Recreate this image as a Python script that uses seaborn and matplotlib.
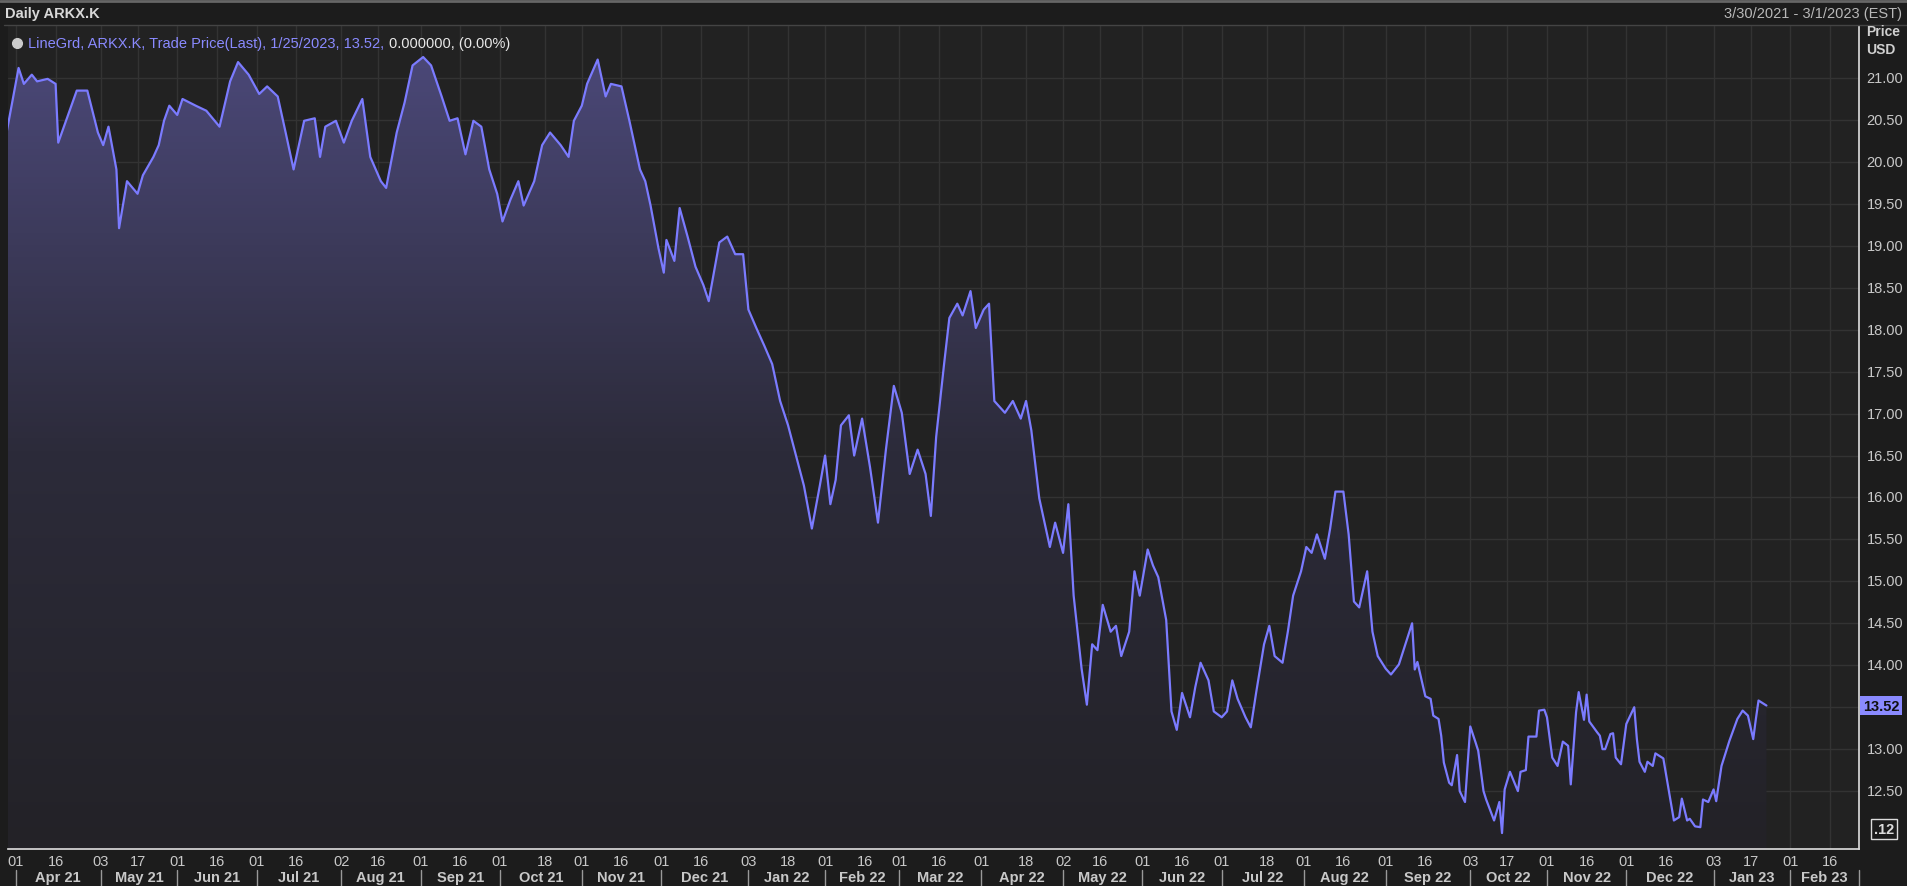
import numpy as np
import pandas as pd
import matplotlib
matplotlib.use("Agg")
import matplotlib.pyplot as plt
import matplotlib.dates as mdates
import seaborn as sns
from matplotlib.colors import LinearSegmentedColormap

# ---- data: day offsets from 2021-04-01 and price ----
day_offset = [-4,1,3,6,8,12,15,16,23,26,27,31,33,35,38,39,42,46,48,52,54,56,58,61,63,68,72,77,81,84,88,92,95,99,
              102,105,109,113,115,117,121,124,127,131,134,138,140,144,147,150,154,157,161,164,167,170,173,176,179,
              182,184,187,190,192,196,199,202,206,209,211,214,216,220,223,225,229,232,236,238,240,243,245,246,249,
              251,254,257,260,262,266,269,272,275,277,280,283,286,289,292,295,298,301,304,306,308,310,312,315,317,
              320,323,326,329,332,335,338,341,344,346,348,351,353,356,358,361,363,366,368,370,374,377,380,382,384,
              387,389,391,393,396,398,400,403,405,407,409,411,414,416,418,421,423,425,428,430,432,435,437,439,441,
              444,446,448,451,453,456,458,460,462,465,467,469,472,474,476,479,481,483,486,488,490,492,495,497,499,
              502,504,506,508,511,513,515,518,520,523,528,529,530,533,535,536,538,539,540,542,543,545,546,548,550,
              552,553,555,556,559,561,562,563,565,568,569,571,572,575,576,578,579,581,583,585,587,588,590,591,593,
              594,595,598,599,600,601,603,604,605,607,609,612,613,614,616,617,619,620,623,625,627,629,630,632,633,
              635,637,638,640,642,643,645,647,648,651,653,655,657,658,659,661,662]
price = [20.27,21.12,20.93,21.04,20.96,20.99,20.93,20.23,20.85,20.85,20.85,20.35,20.2,20.42,19.91,19.21,19.77,19.62,
         19.84,20.06,20.2,20.49,20.67,20.56,20.75,20.67,20.61,20.42,20.96,21.19,21.04,20.81,20.9,20.78,
         20.35,19.91,20.49,20.52,20.06,20.42,20.49,20.23,20.49,20.75,20.06,19.77,19.69,20.35,20.71,21.15,21.25,
         21.15,20.78,20.49,20.52,20.09,20.49,20.42,19.91,19.62,19.29,19.55,19.77,19.48,19.77,20.2,20.35,20.2,
         20.06,20.49,20.67,20.93,21.22,20.78,20.93,20.9,20.49,19.91,19.77,19.48,18.97,18.68,19.07,18.82,
         19.45,19.11,18.75,18.53,18.34,19.04,19.11,18.9,18.9,18.24,18.02,17.81,17.59,17.15,16.86,16.5,16.14,
         15.63,16.14,16.5,15.92,16.21,16.86,16.98,16.5,16.94,16.36,15.7,16.57,17.33,17.01,16.28,16.57,16.28,
         15.78,16.72,17.59,18.14,18.31,18.17,18.46,18.02,18.24,18.31,17.15,17.01,17.15,16.94,17.15,16.8,
         15.99,15.7,15.41,15.7,15.34,15.92,14.83,13.96,13.53,14.25,14.18,14.72,14.4,14.47,14.11,14.4,15.12,
         14.83,15.38,15.19,15.05,14.54,13.45,13.23,13.67,13.38,13.74,14.03,13.82,13.45,13.38,13.45,13.82,13.6,
         13.38,13.26,13.67,14.25,14.47,14.11,14.03,14.4,14.83,15.12,15.41,15.34,15.56,15.27,15.63,16.07,16.07,
         15.56,14.76,14.69,15.12,14.4,14.11,13.96,13.89,14.01,14.5,13.95,14.04,13.63,13.6,13.4,13.36,13.16,
         12.84,12.6,12.57,12.93,12.5,12.37,13.27,13.08,12.98,12.5,12.4,12.15,12.37,12.0,12.52,12.73,12.5,
         12.73,12.75,13.15,13.15,13.46,13.47,13.38,12.9,12.8,13.09,13.04,12.58,13.44,13.68,13.35,13.65,13.33,
         13.2,13.16,13.0,13.0,13.18,13.19,12.9,12.82,13.3,13.5,13.12,12.85,12.73,12.85,12.8,12.95,12.89,12.52,
         12.15,12.19,12.41,12.15,12.17,12.08,12.07,12.4,12.37,12.52,12.38,12.8,13.0,13.1,13.36,13.46,13.4,
         13.12,13.36,13.58,13.54,13.52]
start_date = "2021-04-01"
tick_dates = ["2021-04-01","2021-04-16","2021-05-03","2021-05-17","2021-06-01","2021-06-16","2021-07-01",
              "2021-07-16","2021-08-02","2021-08-16","2021-09-01","2021-09-16","2021-10-01","2021-10-18",
              "2021-11-01","2021-11-16","2021-12-01","2021-12-16","2022-01-03","2022-01-18","2022-02-01",
              "2022-02-16","2022-03-01","2022-03-16","2022-04-01","2022-04-18","2022-05-02","2022-05-16",
              "2022-06-01","2022-06-16","2022-07-01","2022-07-18","2022-08-01","2022-08-16","2022-09-01",
              "2022-09-16","2022-10-03","2022-10-17","2022-11-01","2022-11-16","2022-12-01","2022-12-16",
              "2023-01-03","2023-01-17","2023-02-01","2023-02-16"]
month_labels = ["Apr 21","May 21","Jun 21","Jul 21","Aug 21","Sep 21","Oct 21","Nov 21","Dec 21","Jan 22",
                "Feb 22","Mar 22","Apr 22","May 22","Jun 22","Jul 22","Aug 22","Sep 22","Oct 22","Nov 22",
                "Dec 22","Jan 23","Feb 23"]
y_ticks = [12.5,13.0,13.5,14.0,14.5,15.0,15.5,16.0,16.5,17.0,17.5,18.0,18.5,19.0,19.5,20.0,20.5,21.0]
last_price = 13.52

df = pd.DataFrame({"date": pd.Timestamp(start_date) + pd.to_timedelta(day_offset, unit="D"),
                   "price": price})

sns.set_theme(style="dark")
plt.rcParams["font.family"] = ["Liberation Sans", "DejaVu Sans"]
FS = 10.5

W, H = 1908, 887
fig = plt.figure(figsize=(W/100, H/100), dpi=100, facecolor="#1c1c1c")
L, R, B, T = 8, 1859, 850, 27
ax = fig.add_axes([L/W, 1-B/H, (R-L)/W, (B-T)/H])
ax.set_facecolor("#222222")

xmin, xmax = pd.Timestamp("2021-03-29"), pd.Timestamp("2023-02-27")
ymin, ymax = 11.81, 21.62

for d in tick_dates:
    ax.axvline(pd.Timestamp(d), color="#333333", lw=1, zorder=0)
for y in y_ticks:
    ax.axhline(y, color="#333333", lw=1, zorder=0)

xn = mdates.date2num(df["date"])
poly = ax.fill_between(df["date"], df["price"], ymin, color="none", lw=0)
grad = np.linspace(0, 1, 256).reshape(-1, 1)
cmap = LinearSegmentedColormap.from_list("g", ["#232227", "#2c2b3a", "#4b4878"])
img = ax.imshow(grad, extent=[xn.min(), xn.max(), ymin, 21.3], origin="lower",
                aspect="auto", cmap=cmap, zorder=1)
img.set_clip_path(poly.get_paths()[0], transform=ax.transData)

sns.lineplot(data=df, x="date", y="price", ax=ax, color="#7b7bff", lw=1.6, zorder=3)
ax.set_xlim(xmin, xmax)
ax.set_ylim(ymin, ymax)

ax.set_xlabel(""); ax.set_ylabel("")
ax.set_xticks([]); ax.set_yticks([])
for s in ["top", "left"]:
    ax.spines[s].set_visible(False)
ax.spines["right"].set_color("#d8d8d8")
ax.spines["bottom"].set_color("#d8d8d8")

# right labels
for y in y_ticks:
    ax.text(1.004, (y-ymin)/(ymax-ymin), f"{y:.2f}", transform=ax.transAxes, ha="left",
            va="center", color="#c8c8c8", fontsize=FS)
ax.text(1.002, (last_price-ymin)/(ymax-ymin), f"{last_price:.2f}", transform=ax.transAxes,
        ha="left", va="center", color="#111111", fontsize=FS, fontweight="bold",
        bbox=dict(boxstyle="square,pad=0.2", fc="#8a8aff", ec="none"))
ax.text(1.008, 0.024, ".12", transform=ax.transAxes, ha="left", va="center", color="#dddddd",
        fontsize=FS, fontweight="bold", bbox=dict(boxstyle="square,pad=0.2", fc="none", ec="#dddddd"))
fig.text(1866/W, 1-41/H, "Price\nUSD", color="#d0d0d0", fontsize=10, fontweight="bold",
         ha="left", va="center", linespacing=1.4)

# bottom day labels
xt = ax.get_xaxis_transform()
for d in tick_dates:
    ts = pd.Timestamp(d)
    ax.text(ts, -0.006, f"{ts.day:02d}", transform=xt, ha="center", va="top",
            color="#c8c8c8", fontsize=FS)
firsts = [pd.Timestamp(d) for d in tick_dates if pd.Timestamp(d).day <= 3]
bounds = firsts + [xmax]
for i, lab in enumerate(month_labels):
    mid = bounds[i] + (bounds[i+1]-bounds[i])/2
    ax.text(mid, -0.026, lab, transform=xt, ha="center", va="top",
            color="#c8c8c8", fontsize=FS, fontweight="bold")
for f in bounds:
    ax.plot([f, f], [-0.026, -0.05], transform=xt, color="#999999", lw=1, clip_on=False)

# header
fig.add_artist(plt.Line2D([0, 1], [1-2/H, 1-2/H], color="#666666", lw=2))
fig.text(5/W, 1-14/H, "Daily ARKX.K", color="#d8d8d8", fontsize=10.5, fontweight="bold", va="center")
fig.text(1902/W, 1-14/H, "3/30/2021 - 3/1/2023 (EST)", color="#b8b8b8", fontsize=10.5,
         ha="right", va="center")
fig.add_artist(plt.Line2D([4/W, 1], [1-26/H, 1-26/H], color="#444444", lw=1))
t1 = ax.text(0.011, 0.988, "LineGrd, ARKX.K, Trade Price(Last), 1/25/2023, 13.52, ", transform=ax.transAxes,
             color="#8a8aff", fontsize=FS, va="top", ha="left")
ax.annotate("0.000000, (0.00%)", xy=(1, 0), xycoords=t1, va="bottom", ha="left",
            color="#e8e8e8", fontsize=FS)
ax.plot([0.005], [0.979], marker="o", ms=7, color="#cccccc", transform=ax.transAxes, clip_on=False)

fig.savefig("out.png", dpi=100, facecolor=fig.get_facecolor())
